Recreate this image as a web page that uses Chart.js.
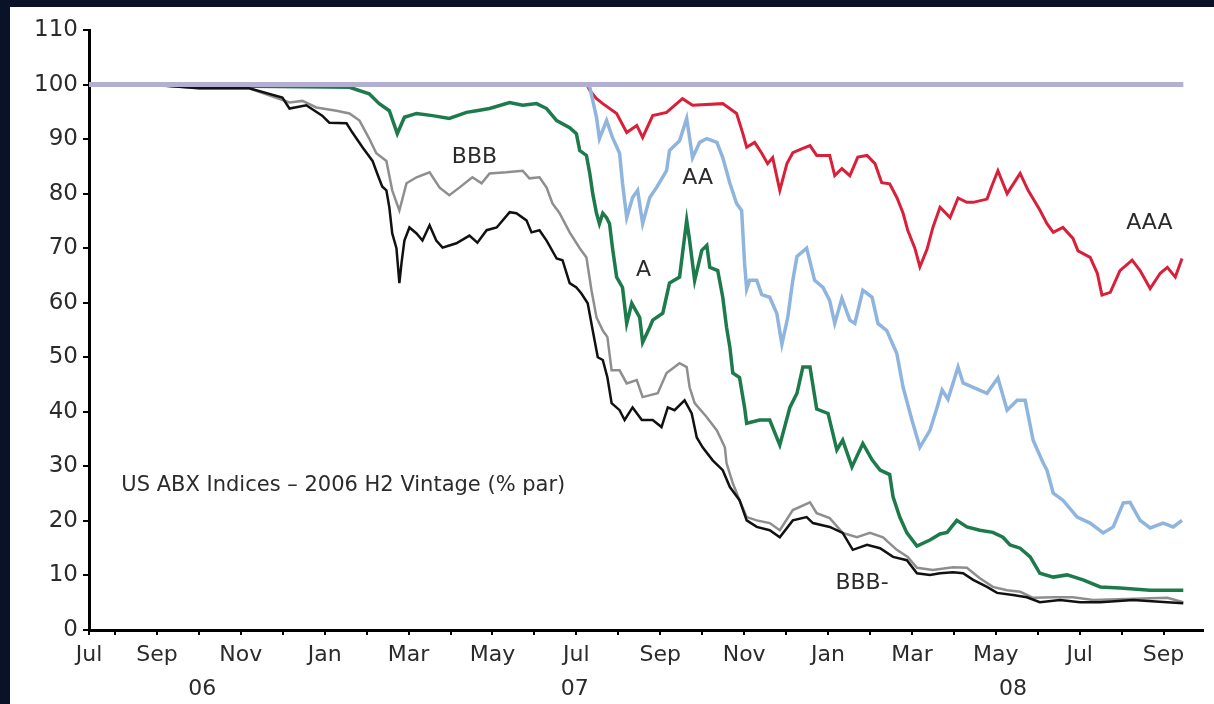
<!DOCTYPE html>
<html>
<head>
<meta charset="utf-8">
<script src="https://cdn.jsdelivr.net/npm/chart.js@4.4.0/dist/chart.umd.min.js"></script>
<style>
  html, body { margin: 0; padding: 0; }
  body { width: 1214px; height: 704px; background: #0a1228; position: relative; overflow: hidden; }
  #panel { position: absolute; left: 10px; top: 7px; width: 1204px; height: 697px; background: #fff; }
</style>
</head>
<body>
<div id="panel"><canvas id="chart" width="1204" height="697"></canvas></div>
<script>
// x = months since 1 Jul 2006, y = price (% of par)
const MONTH_NAMES = ['Jul', 'Aug', 'Sep', 'Oct', 'Nov', 'Dec', 'Jan', 'Feb', 'Mar', 'Apr', 'May', 'Jun'];
const YEAR_LABELS = ['06', '07', '08'];
const Y_TICKS = [0, 10, 20, 30, 40, 50, 60, 70, 80, 90, 100, 110];
const TITLE = 'US ABX Indices \u2013 2006 H2 Vintage (% par)';
const SERIES_NAMES = ['BBB-', 'BBB', 'A', 'AA', 'AAA'];

const par = [[0.38, 100], [26.47, 100]];

const bbbMinus = [[0.38,100],[1.81,100],[3.01,99.3],[4.20,99.3],[4.99,97.6],[5.16,95.6],[5.56,96.2],[5.94,94.3],[6.11,93],[6.52,92.9],[6.66,91.2],[6.90,88.5],[7.14,86],[7.26,83.5],[7.37,81.3],[7.47,80.6],[7.54,77.5],[7.61,72.7],[7.71,70],[7.78,63.6],[7.83,67.2],[7.90,71.4],[8.02,73.8],[8.19,72.7],[8.33,71.4],[8.50,74.2],[8.66,71.4],[8.81,70.1],[8.97,70.5],[9.14,70.9],[9.45,72.3],[9.64,71],[9.86,73.3],[10.10,73.8],[10.41,76.6],[10.57,76.4],[10.81,75.1],[10.93,72.9],[11.12,73.3],[11.29,71.4],[11.53,68.1],[11.67,67.8],[11.84,63.6],[12.00,62.8],[12.12,61.7],[12.27,59.9],[12.39,54.9],[12.51,50],[12.63,49.5],[12.74,46.3],[12.84,41.6],[13.03,40.3],[13.15,38.5],[13.34,40.8],[13.56,38.5],[13.82,38.5],[14.03,37.2],[14.18,40.8],[14.34,40.3],[14.58,42.1],[14.75,39.7],[14.87,35.3],[15.01,33.5],[15.25,31.1],[15.49,29.3],[15.66,26.2],[15.89,23.8],[16.06,20.1],[16.30,18.9],[16.61,18.3],[16.85,17],[17.16,20.1],[17.49,20.7],[17.64,19.6],[18.04,18.9],[18.35,17.8],[18.59,14.7],[18.93,15.6],[19.24,15],[19.55,13.4],[19.88,12.8],[20.12,10.4],[20.43,10.1],[20.67,10.4],[20.98,10.6],[21.22,10.4],[21.46,9.2],[21.79,7.9],[22.03,6.8],[22.41,6.4],[22.74,6],[23.05,5.1],[23.53,5.5],[24.01,5.1],[24.49,5.1],[25.27,5.5],[26.09,5.1],[26.47,4.9]];

const bbb = [[0.38,100],[1.81,100],[3.01,99.3],[4.20,99.3],[5.16,96.7],[5.47,97],[5.80,95.8],[6.28,95.2],[6.59,94.7],[6.83,93.4],[7.06,90.1],[7.23,87.4],[7.47,86],[7.61,80.6],[7.78,76.9],[7.95,81.9],[8.19,83],[8.50,83.9],[8.74,81.1],[8.97,79.7],[9.21,81.1],[9.52,83],[9.74,81.9],[9.93,83.7],[10.33,83.9],[10.72,84.2],[10.88,82.8],[11.12,83],[11.29,81.1],[11.43,78.2],[11.60,76.4],[11.84,72.9],[12.08,70],[12.24,68.3],[12.36,62.3],[12.48,57.3],[12.63,54.9],[12.74,53.7],[12.84,47.6],[13.03,47.6],[13.20,45.2],[13.44,45.8],[13.58,42.7],[13.94,43.4],[14.15,47.1],[14.46,48.9],[14.63,48.2],[14.70,44.5],[14.82,41.6],[15.11,39],[15.35,36.6],[15.54,33.5],[15.58,30.6],[15.73,26.9],[15.89,23.8],[16.06,20.7],[16.30,20.1],[16.61,19.6],[16.85,18.3],[17.16,22],[17.57,23.4],[17.73,21.4],[18.04,20.5],[18.35,17.8],[18.69,17],[19.00,17.8],[19.31,17],[19.64,14.7],[19.90,13.4],[20.12,11.4],[20.50,11],[20.98,11.5],[21.31,11.4],[21.62,9.5],[21.93,7.9],[22.27,7.3],[22.58,7],[22.89,5.9],[23.37,6],[23.84,6],[24.32,5.5],[26.09,5.9],[26.47,5.1]];

const singleA = [[0.38,100],[6.59,99.5],[7.06,98.3],[7.30,96.5],[7.54,95.2],[7.73,91],[7.90,94],[8.19,94.7],[8.57,94.3],[8.97,93.8],[9.38,94.9],[9.62,95.2],[9.93,95.6],[10.41,96.7],[10.72,96.2],[11.05,96.5],[11.29,95.6],[11.53,93.4],[11.84,92.1],[12.00,91],[12.08,87.9],[12.24,87],[12.32,83.7],[12.39,80],[12.48,76.4],[12.55,74.5],[12.63,76.4],[12.72,75.6],[12.79,74.5],[12.86,70.1],[12.96,64.7],[13.10,62.8],[13.20,56.2],[13.32,59.9],[13.51,57.3],[13.58,52.7],[13.75,55.5],[13.82,56.8],[14.06,58.1],[14.22,63.6],[14.46,64.7],[14.63,75.1],[14.70,71.4],[14.82,64.1],[14.99,69.6],[15.11,70.5],[15.18,66.5],[15.37,65.9],[15.49,61],[15.58,55.5],[15.66,51.8],[15.73,47.1],[15.89,46.3],[16.01,40.8],[16.06,37.9],[16.37,38.5],[16.61,38.5],[16.85,33.9],[17.09,40.8],[17.26,43.4],[17.40,48.2],[17.57,48.2],[17.73,40.5],[18.00,39.7],[18.21,33],[18.35,34.8],[18.57,29.9],[18.83,34.2],[19.05,31.2],[19.24,29.3],[19.47,28.5],[19.55,24.4],[19.71,20.7],[19.88,17.8],[20.12,15.4],[20.43,16.5],[20.67,17.6],[20.84,17.9],[21.07,20.1],[21.31,18.9],[21.62,18.3],[21.93,17.9],[22.17,17],[22.34,15.6],[22.58,15],[22.82,13.4],[23.05,10.4],[23.37,9.7],[23.70,10.1],[24.08,9.2],[24.49,7.9],[24.96,7.7],[25.68,7.3],[26.47,7.3]];

const doubleA = [[0.38,100],[12.25,100],[12.32,99.5],[12.48,94],[12.55,90.1],[12.72,93.4],[12.86,90.3],[13.03,87.4],[13.10,81.9],[13.20,75.6],[13.34,79.3],[13.46,80.6],[13.58,74.5],[13.75,79.3],[13.91,81.1],[14.15,84.2],[14.22,87.9],[14.46,89.7],[14.63,93.8],[14.77,86.6],[14.94,89.4],[15.11,90.1],[15.35,89.4],[15.49,86.6],[15.66,81.9],[15.82,78.2],[15.94,76.9],[16.01,67.2],[16.06,62.5],[16.13,64.1],[16.30,64.1],[16.42,61.5],[16.61,61],[16.78,58],[16.90,52.4],[17.04,57.3],[17.16,64.1],[17.26,68.5],[17.49,70],[17.68,64.1],[17.88,62.8],[18.04,60.4],[18.16,56.2],[18.33,60.8],[18.52,56.8],[18.64,56.2],[18.83,62.3],[19.05,61],[19.19,56.2],[19.40,54.9],[19.64,50.7],[19.79,44.5],[20.00,38.5],[20.19,33.5],[20.43,36.6],[20.60,40.8],[20.72,44],[20.86,42.3],[21.10,48.2],[21.22,45.3],[21.46,44.5],[21.79,43.4],[22.05,46.2],[22.27,40.3],[22.51,42.1],[22.70,42.1],[22.89,34.8],[23.13,30.6],[23.22,29.3],[23.37,25.1],[23.60,23.8],[23.94,20.7],[24.25,19.6],[24.56,17.8],[24.80,18.9],[25.04,23.3],[25.20,23.4],[25.44,20.1],[25.68,18.7],[25.99,19.6],[26.23,18.9],[26.44,20.1]];

const tripleA = [[0.38,100],[12.25,100],[12.32,98.9],[12.48,97.4],[12.63,96.5],[12.96,94.7],[13.20,91.2],[13.44,92.5],[13.58,90.3],[13.82,94.3],[14.15,94.9],[14.53,97.4],[14.77,96.2],[15.49,96.5],[15.82,94.7],[15.97,91],[16.06,88.5],[16.25,89.4],[16.42,87.4],[16.56,85.5],[16.68,86.6],[16.85,80.6],[17.02,85.5],[17.16,87.5],[17.40,88.3],[17.57,88.8],[17.73,87],[18.04,87],[18.16,83.3],[18.33,84.6],[18.52,83.3],[18.71,86.7],[18.93,87],[19.12,85.5],[19.28,82],[19.47,81.8],[19.64,79.3],[19.79,76.4],[19.90,73.3],[20.07,70],[20.19,66.6],[20.36,69.8],[20.50,73.8],[20.67,77.5],[20.91,75.6],[21.10,79.2],[21.31,78.4],[21.46,78.4],[21.79,79],[21.91,81.5],[22.05,84.2],[22.27,80],[22.58,83.7],[22.77,80.6],[23.05,77],[23.22,74.5],[23.37,72.9],[23.60,73.8],[23.84,71.8],[23.96,69.5],[24.25,68.3],[24.42,65.4],[24.53,61.4],[24.73,61.9],[24.96,65.9],[25.25,67.8],[25.44,65.9],[25.68,62.6],[25.92,65.4],[26.09,66.5],[26.28,64.7],[26.44,68.1]];

const X_MIN = 0.38;
const X_MAX = 26.94;

// where the in-plot texts sit, in axis units
const LABEL_SPOTS = { 'BBB-': [18.81, 8.6], 'BBB': [9.57, 86.6], 'A': [13.6, 65.9], 'AA': [14.89, 82.8], 'AAA': [25.66, 74.5] };
const YEAR_SPOTS = [3.08, 11.96, 22.41];
const TITLE_SPOT = [1.15, 26.4];

const FONT = '"DejaVu Sans", sans-serif';
Chart.defaults.font.family = FONT;

const toXY = arr => arr.map(([x, y]) => ({ x, y }));

const line = (label, data, color, width) => ({
  label,
  data: toXY(data),
  borderColor: color,
  borderWidth: width,
  pointRadius: 0,
  tension: 0,
  fill: false
});

const annotate = {
  id: 'annotate',
  afterDraw(chart) {
    const { ctx, scales: { x, y } } = chart;
    ctx.save();
    ctx.fillStyle = '#2b2b2b';
    ctx.textBaseline = 'middle';

    ctx.font = '22px ' + FONT;
    ctx.textAlign = 'center';
    SERIES_NAMES.forEach(name => {
      const [mx, my] = LABEL_SPOTS[name];
      ctx.fillText(name, x.getPixelForValue(mx), y.getPixelForValue(my));
    });

    ctx.font = '21px ' + FONT;
    ctx.textAlign = 'left';
    ctx.fillText(TITLE, x.getPixelForValue(TITLE_SPOT[0]), y.getPixelForValue(TITLE_SPOT[1]));

    ctx.font = '22px ' + FONT;
    ctx.textAlign = 'center';
    YEAR_LABELS.forEach((yr, i) => {
      ctx.fillText(yr, x.getPixelForValue(YEAR_SPOTS[i]), y.bottom + 59);
    });
    ctx.restore();
  }
};

new Chart(document.getElementById('chart'), {
  type: 'line',
  data: {
    datasets: [
      line('par', par, '#b3afd3', 5),
      line('BBB-', bbbMinus, '#111111', 2.5),
      line('BBB', bbb, '#8e8e8e', 2.5),
      line('A', singleA, '#1d7b4b', 3.5),
      line('AA', doubleA, '#8fb5de', 3.5),
      line('AAA', tripleA, '#d8203a', 3)
    ]
  },
  options: {
    responsive: false,
    animation: false,
    layout: { padding: { top: 23, right: 11, left: 0, bottom: 0 } },
    plugins: {
      legend: { display: false },
      tooltip: { enabled: false }
    },
    scales: {
      x: {
        type: 'linear',
        min: X_MIN,
        max: X_MAX,
        afterBuildTicks: scale => {
          const ticks = [{ value: X_MIN }];
          for (let m = 1; m <= 26; m++) ticks.push({ value: m });
          scale.ticks = ticks;
        },
        afterFit: scale => { scale.height = 74; },
        border: { color: '#000', width: 3 },
        grid: { drawOnChartArea: false, drawTicks: true, tickLength: 5, color: '#000', lineWidth: 2 },
        ticks: {
          autoSkip: false,
          maxRotation: 0,
          minRotation: 0,
          padding: 7,
          color: '#2b2b2b',
          font: { size: 22 },
          callback: (value, index) => {
            if (index === 0) return MONTH_NAMES[0];
            return value % 2 === 0 ? MONTH_NAMES[value % 12] : '';
          }
        }
      },
      y: {
        min: 0,
        max: 110,
        afterBuildTicks: scale => { scale.ticks = Y_TICKS.map(v => ({ value: v })); },
        afterFit: scale => { scale.width = 79; },
        border: { color: '#000', width: 3 },
        grid: { drawOnChartArea: false, drawTicks: true, tickLength: 6, color: '#000', lineWidth: 2 },
        ticks: {
          padding: 5,
          color: '#2b2b2b',
          font: { size: 23 }
        }
      }
    }
  },
  plugins: [annotate]
});
</script>
</body>
</html>
